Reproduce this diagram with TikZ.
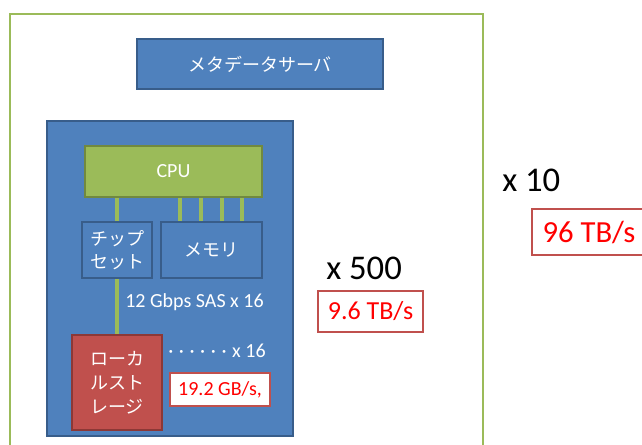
\documentclass[tikz,border=0pt]{standalone}
\usepackage{fontspec}
\setmainfont{Carlito}
\newfontfamily\jp{Noto Sans CJK JP}
\definecolor{oblue}{HTML}{4F81BD}
\definecolor{oblueD}{HTML}{385D8A}
\definecolor{ogreen}{HTML}{9BBB59}
\definecolor{ogreenD}{HTML}{71893F}
\definecolor{ored}{HTML}{C0504D}
\definecolor{oredD}{HTML}{8C3836}
\definecolor{txtred}{HTML}{FF0000}
\newcommand\spdot{\makebox[8pt][l]{·}}
\begin{document}
\begin{tikzpicture}[x=0.75pt,y=-0.75pt,
  box/.style={rectangle, line width=1.5pt, inner sep=0pt, align=center},
  bluebox/.style={box, draw=oblueD, fill=oblue, text=white},
  greenbox/.style={box, draw=ogreenD, fill=ogreen, text=white},
  redbox/.style={box, draw=oredD, fill=ored, text=white},
  ratebox/.style={box, draw=ored, fill=white, line width=1.2pt, text=txtred},
  jptext/.style={font=\jp\fontsize{13.5}{17}\selectfont},
  latin/.style={font=\fontsize{15}{18}\selectfont},
  link/.style={draw=ogreen, line width=3pt},
  mult/.style={font=\fontsize{26}{30}\selectfont, text=black, inner sep=0pt, anchor=west}
]
\useasboundingbox (0,0) rectangle (642,444);
\clip (0,0) rectangle (642,444);
\fill[white] (0,0) rectangle (642,444);
% outer server group
\draw[ogreen, line width=1.5pt] (10,470) -- (10,14) -- (483,14) -- (483,470);
% metadata server
\node[bluebox, jptext, minimum width=184.5pt, minimum height=37.5pt] (meta) at (260,64) {メタデータサーバ};
% storage node
\node[bluebox, minimum width=184.5pt, minimum height=236.25pt] (node) at (170,278.5) {};
\node[greenbox, latin, minimum width=132.75pt, minimum height=38.25pt] (cpu) at (173.5,171.5) {CPU};
\node[bluebox, jptext, minimum width=52.5pt, minimum height=42pt] (chip) at (117,250) {チップ\\セット};
\node[bluebox, jptext, minimum width=75.75pt, minimum height=42pt] (mem) at (211.5,250) {メモリ};
\node[redbox, jptext, font=\jp\fontsize{13.5}{18}\selectfont, minimum width=67.5pt, minimum height=71.25pt] (disk) at (117,382.5) {ローカ\\ルスト\\レージ};
% links
\draw[link] (cpu.south -| chip.north) -- (chip.north);
\foreach \xx in {180,201,222,242}{
  \draw[link] (cpu.south -| \xx,0) -- (mem.north -| \xx,0);
}
\draw[link] (chip.south) -- (disk.north -| chip.south);
% labels
\node[latin, text=white, anchor=west, inner sep=0pt] (sas) at (125,302) {12 Gbps SAS x 16};
\node[latin, text=white, anchor=west, inner sep=0pt] (dots) at (168,351) {\spdot\spdot\spdot\spdot\spdot\spdot x 16};
\node[ratebox, latin, minimum width=75pt, minimum height=24.75pt] (r1) at (220,389.5) {19.2 GB/s,};
\node[mult] (x500) at (326,268) {x 500};
\node[ratebox, font=\fontsize{19.5}{22}\selectfont, minimum width=78.75pt, minimum height=30.75pt] (r2) at (370.5,311.5) {9.6 TB/s};
\node[mult] (x10) at (502,180) {x 10};
\node[ratebox, font=\fontsize{23}{26}\selectfont, minimum width=85.5pt, minimum height=34.5pt] (r3) at (589,232) {96 TB/s};
\end{tikzpicture}
\end{document}
